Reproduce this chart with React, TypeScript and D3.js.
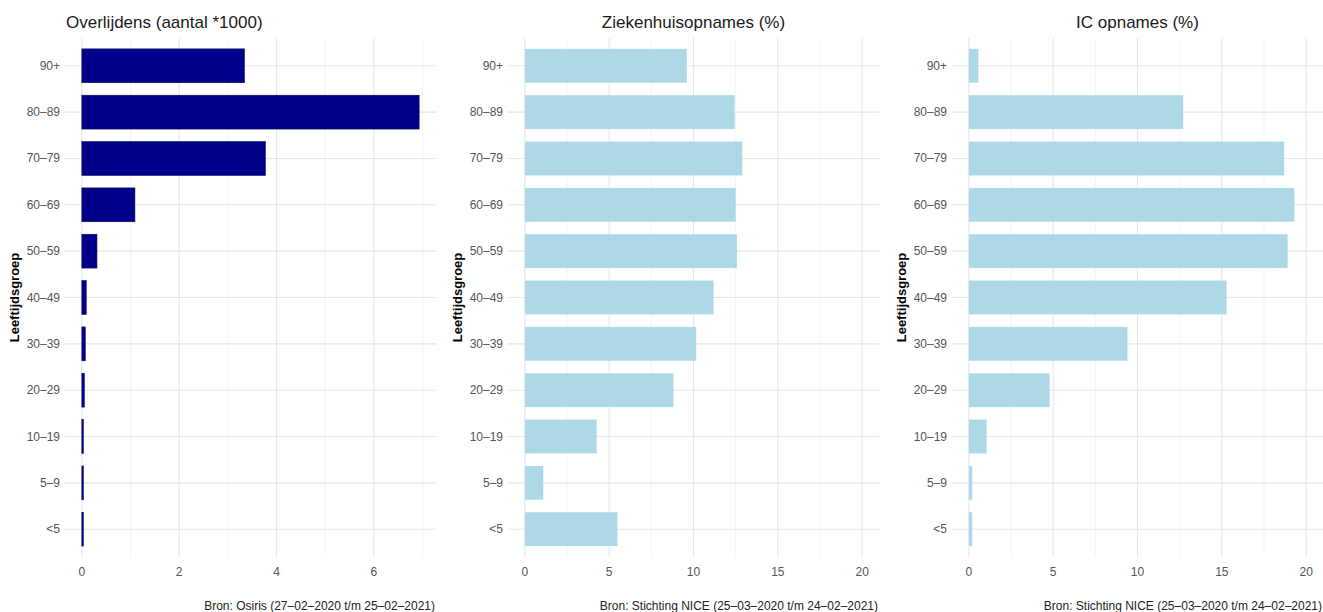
import { useEffect, useRef } from 'react'
import * as d3 from 'd3'

// age groups, top to bottom
const categories = ['90+', '80–89', '70–79', '60–69', '50–59', '40–49', '30–39', '20–29', '10–19', '5–9', '<5']

// deaths (x1000)
const deaths = [3.34, 6.93, 3.77, 1.09, 0.31, 0.09, 0.07, 0.05, 0.03, 0.02, 0.02]
// hospital admissions (%)
const hospital = [9.6, 12.44, 12.89, 12.5, 12.57, 11.19, 10.16, 8.81, 4.26, 1.09, 5.49]
// IC admissions (%)
const icu = [0.56, 12.71, 18.7, 19.3, 18.9, 15.28, 9.4, 4.79, 1.05, 0.2, 0.2]

const deathTicks = [0, 2, 4, 6]
const pctTicks = [0, 5, 10, 15, 20]

const titles = ['Overlijdens (aantal *1000)', 'Ziekenhuisopnames (%)', 'IC opnames (%)']
const captions = [
  'Bron: Osiris (27–02–2020 t/m 25–02–2021)',
  'Bron: Stichting NICE (25–03–2020 t/m 24–02–2021)',
  'Bron: Stichting NICE (25–03–2020 t/m 24–02–2021)',
]
const yLabel = 'Leeftijdsgroep'

const FONT = '"Liberation Sans", Arial, Helvetica, sans-serif'

export default () => {
  const svgRef = useRef<SVGSVGElement>(null)

  useEffect(() => {
    const width = 1323,
      height = 612
    const panelTop = 38,
      panelBottom = 557,
      panelWidth = 371
    const panelLefts = [65, 508, 952]

    const panels = [
      { values: deaths, ticks: deathTicks, limit: d3.max(deaths) as number, minorStep: 1, color: '#00008b', stroke: '#0a0a5a', titleLeft: true },
      { values: hospital, ticks: pctTicks, limit: 20, minorStep: 2.5, color: '#add8e6', stroke: 'none', titleLeft: false },
      { values: icu, ticks: pctTicks, limit: 20, minorStep: 2.5, color: '#add8e6', stroke: 'none', titleLeft: false },
    ]

    const svg = d3.select(svgRef.current).attr('width', width).attr('height', height)
    svg.selectAll('*').remove()
    svg.append('rect').attr('width', width).attr('height', height).attr('fill', '#ffffff')

    const y = d3.scalePoint<string>().domain(categories).range([panelTop, panelBottom]).padding(0.6)
    const barH = y.step() * 0.73

    panels.forEach((p, i) => {
      const left = panelLefts[i]
      const pad = p.limit * 0.05
      const x = d3
        .scaleLinear()
        .domain([-pad, p.limit + pad])
        .range([left, left + panelWidth])
      const [d0, d1] = x.domain()
      const g = svg.append('g').style('font-family', FONT)

      // minor vertical grid
      const minor = d3.range(p.minorStep, d1, p.minorStep * 2).filter((v) => v > d0 && v < d1)
      g.selectAll('line.minor')
        .data(minor)
        .join('line')
        .attr('class', 'minor')
        .attr('x1', (d) => x(d))
        .attr('x2', (d) => x(d))
        .attr('y1', panelTop)
        .attr('y2', panelBottom)
        .attr('stroke', '#efeef3')
        .attr('stroke-width', 0.7)

      // major vertical grid
      g.selectAll('line.major')
        .data(p.ticks)
        .join('line')
        .attr('class', 'major')
        .attr('x1', (d) => x(d))
        .attr('x2', (d) => x(d))
        .attr('y1', panelTop)
        .attr('y2', panelBottom)
        .attr('stroke', '#e6e5ed')
        .attr('stroke-width', 1.1)

      // horizontal grid
      g.selectAll('line.hgrid')
        .data(categories)
        .join('line')
        .attr('class', 'hgrid')
        .attr('x1', left)
        .attr('x2', left + panelWidth)
        .attr('y1', (d) => y(d) as number)
        .attr('y2', (d) => y(d) as number)
        .attr('stroke', '#e6e5ed')
        .attr('stroke-width', 1.1)

      // bars
      g.selectAll('rect.bar')
        .data(categories)
        .join('rect')
        .attr('class', 'bar')
        .attr('x', x(0))
        .attr('y', (d) => (y(d) as number) - barH / 2)
        .attr('width', (_, j) => Math.max(x(p.values[j]) - x(0), 1.5))
        .attr('height', barH)
        .attr('fill', p.color)
        .attr('stroke', p.stroke)
        .attr('stroke-width', 0.6)

      // y tick labels
      g.selectAll('text.ylab')
        .data(categories)
        .join('text')
        .attr('class', 'ylab')
        .attr('x', left - 5)
        .attr('y', (d) => y(d) as number)
        .attr('text-anchor', 'end')
        .attr('dominant-baseline', 'central')
        .attr('font-size', 12)
        .attr('fill', '#555555')
        .text((d) => d)

      // x tick labels
      g.selectAll('text.xlab')
        .data(p.ticks)
        .join('text')
        .attr('class', 'xlab')
        .attr('x', (d) => x(d))
        .attr('y', 572)
        .attr('text-anchor', 'middle')
        .attr('dominant-baseline', 'central')
        .attr('font-size', 12)
        .attr('fill', '#555555')
        .text((d) => d)

      // title
      g.append('text')
        .attr('x', p.titleLeft ? left + 1 : left + panelWidth / 2)
        .attr('y', 22)
        .attr('text-anchor', p.titleLeft ? 'start' : 'middle')
        .attr('dominant-baseline', 'central')
        .attr('font-size', 17)
        .attr('fill', '#1a1a1a')
        .text(titles[i])

      // y axis title
      const yMid = (panelTop + panelBottom) / 2
      g.append('text')
        .attr('transform', `translate(${left - 51},${yMid}) rotate(-90)`)
        .attr('text-anchor', 'middle')
        .attr('dominant-baseline', 'central')
        .attr('font-size', 13)
        .attr('font-weight', 'bold')
        .attr('fill', '#000000')
        .text(yLabel)

      // caption
      g.append('text')
        .attr('x', left + panelWidth - 1)
        .attr('y', 606)
        .attr('text-anchor', 'end')
        .attr('dominant-baseline', 'central')
        .attr('font-size', 12)
        .attr('fill', '#222222')
        .text(captions[i])
    })
  }, [])

  return <svg ref={svgRef} style={{ position: 'absolute', left: 0, top: 0 }}></svg>
}
